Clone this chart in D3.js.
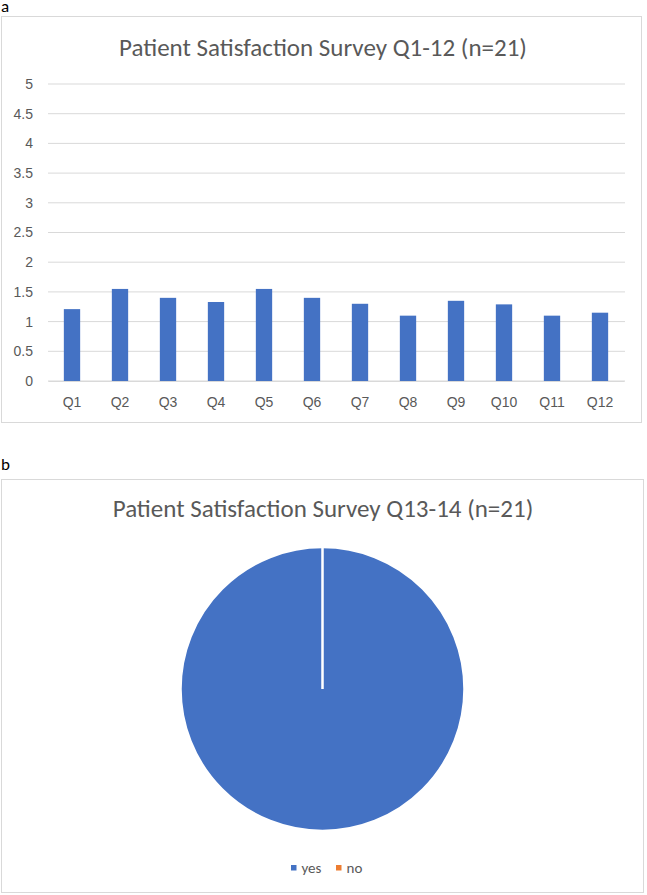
<!DOCTYPE html>
<html><head><meta charset="utf-8">
<script src="https://cdn.jsdelivr.net/npm/d3@7"></script>
<style>body{margin:0;background:#fff;} svg{display:block;font-family:Calibri,Carlito,Lato,"Open Sans","Liberation Sans",sans-serif;}</style>
</head><body><svg id="c" width="647" height="895"></svg>
<script>
const categories = ["Q1","Q2","Q3","Q4","Q5","Q6","Q7","Q8","Q9","Q10","Q11","Q12"];
const barValues = [1.21,1.55,1.40,1.33,1.55,1.40,1.30,1.10,1.35,1.29,1.10,1.15];
const yTicks = [0,0.5,1,1.5,2,2.5,3,3.5,4,4.5,5];
const pieLabels = ["yes","no"];
const pieValues = [21,0];
const pieColors = ["#4472C4","#ED7D31"];

const svg = d3.select("#c");
const txt = "#595959";

// panel labels
svg.append("text").attr("x",1).attr("y",12).attr("font-size",17).attr("fill","#000").text("a");
svg.append("text").attr("x",1).attr("y",470).attr("font-size",17).attr("fill","#000").text("b");

// frames
svg.append("rect").attr("x",1.5).attr("y",16.5).attr("width",640).attr("height",406).attr("fill","#fff").attr("stroke","#d9d9d9");
svg.append("rect").attr("x",1.5).attr("y",479.5).attr("width",642).attr("height",413).attr("fill","#fff").attr("stroke","#d9d9d9");

// Bar chart
svg.append("text").attr("x",323).attr("y",56).attr("text-anchor","middle").attr("font-size",25).attr("fill",txt)
  .text("Patient Satisfaction Survey Q1-12 (n=21)");
const x = d3.scaleBand().domain(categories).range([48,624]).paddingInner(0.66).paddingOuter(0.33);
const y = d3.scaleLinear().domain([0,5]).range([381,84]);
const g = svg.append("g");
g.selectAll("line.grid").data(yTicks).join("line").attr("class","grid")
  .attr("x1",48).attr("x2",625).attr("y1",d=>y(d)).attr("y2",d=>y(d))
  .attr("stroke","#d9d9d9").attr("stroke-width",1);
const yAxis = d3.axisLeft(y).tickValues(yTicks).tickSize(0).tickPadding(0).tickFormat(d=>String(d));
const ya = svg.append("g").attr("transform","translate(33,0)").call(yAxis);
ya.select(".domain").remove();
ya.selectAll("text").attr("font-size",14).attr("fill",txt).attr("font-family","inherit");
g.selectAll("rect.bar").data(barValues).join("rect").attr("class","bar")
  .attr("x",(d,i)=>x(categories[i])).attr("width",x.bandwidth())
  .attr("y",d=>y(d)).attr("height",d=>y(0)-y(d)).attr("fill","#4472C4");
const xAxis = d3.axisBottom(x).tickSize(0).tickPadding(16);
const xa = svg.append("g").attr("transform","translate(0,381)").call(xAxis);
xa.select(".domain").attr("stroke","#d9d9d9");
xa.selectAll("text").attr("font-size",14).attr("fill",txt).attr("font-family","inherit");

// Pie chart
svg.append("text").attr("x",323).attr("y",517).attr("text-anchor","middle").attr("font-size",25).attr("fill",txt)
  .text("Patient Satisfaction Survey Q13-14 (n=21)");
const pie = d3.pie().sort(null).value(d=>d)(pieValues);
const arc = d3.arc().innerRadius(0).outerRadius(142);
const pg = svg.append("g").attr("transform","translate(322.5,689)");
pg.selectAll("path").data(pie).join("path").attr("d",arc)
  .attr("fill",(d,i)=>pieColors[i]).attr("stroke","#fff").attr("stroke-width",2.5);

// legend
const lg = svg.append("g");
const legX = [291,336];
pieLabels.forEach((l,i)=>{
  lg.append("rect").attr("x",legX[i]).attr("y",865).attr("width",5.5).attr("height",5.5).attr("fill",pieColors[i]);
  lg.append("text").attr("x",legX[i]+10.5).attr("y",873).attr("font-size",15).attr("fill",txt).text(l);
});
</script></body></html>
